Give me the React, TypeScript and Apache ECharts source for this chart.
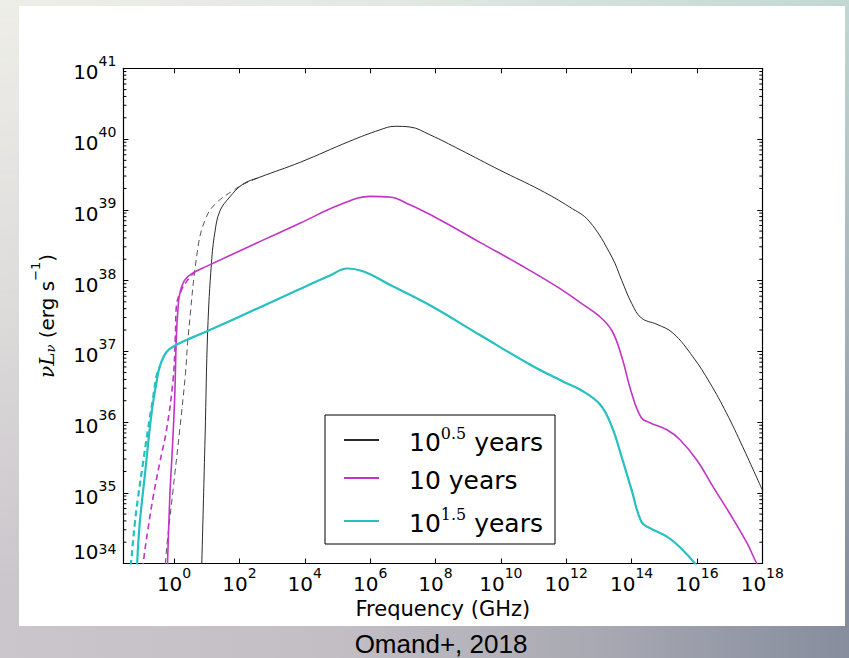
import React, { useEffect, useRef } from 'react';
import * as echarts from 'echarts';

// Axis extents (log10 units)
const xMinLog = -1.55;
const xMaxLog = 18;
const yMinLog = 34;
const yMaxLog = 41;

// Tick structure
const xTickStep = 2;
const yDecades = [34, 35, 36, 37, 38, 39, 40];
const minorFactors = [2, 3, 4, 5, 6, 7, 8, 9];

// Series: [log10(freq / GHz), log10(nu L_nu / erg s^-1)]
const blackSolid: [number, number][] = [
  [0.8, 33.3], [0.848, 34.0], [0.95, 35.8], [1.03, 37.3], [1.145, 38.25], [1.246, 38.67],
  [1.4, 38.98], [1.705, 39.18], [2.1, 39.36], [2.62, 39.46], [3.85, 39.67], [5.38, 39.97],
  [6.3, 40.13], [6.76, 40.18], [7.22, 40.17], [7.83, 40.06], [8.75, 39.85], [9.97, 39.56],
  [11.2, 39.28], [12.1, 39.04], [12.7, 38.84], [13.4, 38.33], [13.7, 38.0], [14.0, 37.68],
  [14.3, 37.47], [14.78, 37.38], [15.26, 37.26], [15.88, 36.92], [16.4, 36.55], [16.9, 36.13],
  [17.4, 35.65], [18.0, 35.04],
];
const blackDashed: [number, number][] = [
  [-0.35, 33.0], [-0.263, 34.01], [-0.03, 35.04], [0.174, 35.89], [0.35, 36.69], [0.43, 37.2],
  [0.735, 38.48], [0.99, 38.9], [1.3, 39.1], [1.8, 39.27], [2.16, 39.37], [2.62, 39.46],
];
const magentaSolid: [number, number][] = [
  [-0.25, 33.3], [-0.2, 34.0], [-0.13, 34.94], [-0.05, 35.64], [0.02, 36.35], [0.07, 37.2],
  [0.12, 37.6], [0.17, 37.8], [0.33, 38.01], [0.63, 38.12], [0.99, 38.2], [2.62, 38.55],
  [3.85, 38.81], [5.07, 39.07], [6.0, 39.19], [6.6, 39.18], [7.22, 39.07], [8.13, 38.86],
  [9.36, 38.54], [10.6, 38.22], [11.8, 37.89], [12.42, 37.69], [13.0, 37.5], [13.4, 37.29],
  [13.7, 36.92], [14.0, 36.41], [14.3, 36.06], [14.56, 35.99], [15.08, 35.89], [15.48, 35.75],
  [16.0, 35.46], [16.5, 35.08], [17.0, 34.71], [17.53, 34.29], [17.83, 34.0], [18.0, 33.88],
];
const magentaDashed: [number, number][] = [
  [-1.05, 33.5], [-0.93, 34.05], [-0.8, 34.48], [-0.64, 34.94], [-0.44, 35.42], [-0.23, 35.89],
  [-0.03, 36.6], [0.04, 37.2], [0.07, 37.63], [0.23, 37.87], [0.42, 38.01], [0.63, 38.12],
];
const cyanSolid: [number, number][] = [
  [-1.2, 33.2], [-1.13, 34.0], [-1.05, 34.57], [-0.9, 35.22], [-0.69, 36.12], [-0.54, 36.55],
  [-0.44, 36.78], [-0.23, 36.99], [0.07, 37.09], [0.58, 37.2], [1.04, 37.29], [2.62, 37.62],
  [3.85, 37.88], [4.77, 38.07], [5.29, 38.17], [5.84, 38.12], [6.6, 37.94], [7.83, 37.65],
  [9.36, 37.23], [10.9, 36.81], [11.96, 36.56], [12.42, 36.46], [13.03, 36.25], [13.4, 35.93],
  [13.7, 35.5], [14.0, 35.04], [14.3, 34.59], [14.56, 34.5], [15.08, 34.38], [15.48, 34.23],
  [15.94, 34.0], [16.1, 33.88],
];
const cyanDashed: [number, number][] = [
  [-1.45, 33.4], [-1.3, 34.09], [-1.2, 34.57], [-1.1, 34.94], [-0.95, 35.42], [-0.8, 35.89],
  [-0.64, 36.35], [-0.54, 36.64], [-0.44, 36.78],
];

const seriesNames = ['10^0.5 years', '10 years', '10^1.5 years'];
const legendLabels: Record<string, string> = {
  '10^0.5 years': '{g|}{b|10}{s|0.5}{b| years}',
  '10 years': '{g|}{b|10 years}',
  '10^1.5 years': '{g|}{b|10}{s|1.5}{b| years}',
};

const BLACK = '#2a2a2a';
const MAGENTA = '#c233c6';
const CYAN = '#26c0c0';

const sansFont = '"DejaVu Sans", sans-serif';

export default function App() {
  const ref = useRef<HTMLDivElement>(null);

  useEffect(() => {
    document.body.style.margin = '0';
    const chart = echarts.init(ref.current!, null, { renderer: 'svg' });

    const minorData: [number, number][] = [];
    yDecades.forEach((d) => minorFactors.forEach((k) => minorData.push([xMinLog, d + Math.log10(k)])));

    const bStyle = { fontSize: 20, fontFamily: sansFont, color: '#000', lineHeight: 28, verticalAlign: 'bottom' };
    const sStyle = { fontSize: 14, fontFamily: sansFont, color: '#000', lineHeight: 14, verticalAlign: 'top' };
    const tickLabelRich = {
      b: bStyle,
      s: sStyle,
      bl: { ...bStyle, verticalAlign: 'top' },
      sp: { fontSize: 1, lineHeight: 44, width: 0 },
    };

    const axisCommon = {
      axisLine: { show: true, onZero: false, lineStyle: { color: '#000', width: 1.2 } },
      axisTick: { show: true, inside: true, length: 5, lineStyle: { color: '#000', width: 1 } },
      splitLine: { show: false },
    };

    const xLabelFormatter = (v: number) =>
      Number.isInteger(v) && v % xTickStep === 0 ? `{b|10}{s|${v}}` : '';
    const yLabelFormatter = (v: number) =>
      v === yMinLog ? `{bl|10}{s|${v}}{sp| }` : `{b|10}{s|${v}}`;

    const lineSeries = (name: string, data: [number, number][], color: string, width: number, dashed: boolean) => ({
      type: 'line',
      name,
      data,
      xAxisIndex: 0,
      yAxisIndex: 0,
      symbol: 'none',
      showSymbol: false,
      smooth: 0.4,
      clip: true,
      lineStyle: { color, width, type: dashed ? [6, 4] : 'solid' },
      itemStyle: { color },
      z: dashed ? 2 : 3,
    });

    const option: any = {
      animation: false,
      backgroundColor: 'transparent',
      grid: { left: 123.4, top: 68.3, right: 86.7, bottom: 94.5, containLabel: false },
      xAxis: [
        {
          type: 'value', position: 'bottom', min: xMinLog, max: xMaxLog,
          minInterval: xTickStep, maxInterval: xTickStep, splitNumber: 10,
          ...axisCommon,
          axisLabel: { show: true, margin: 2, formatter: xLabelFormatter, rich: tickLabelRich, showMinLabel: true, showMaxLabel: true },
          name: 'Frequency (GHz)', nameLocation: 'middle', nameGap: 34,
          nameTextStyle: { fontSize: 21, fontFamily: sansFont, color: '#000' },
        },
        {
          type: 'value', position: 'top', min: xMinLog, max: xMaxLog,
          minInterval: xTickStep, maxInterval: xTickStep, splitNumber: 10,
          ...axisCommon,
          axisLabel: { show: false },
        },
      ],
      yAxis: [
        {
          type: 'value', position: 'left', min: yMinLog, max: yMaxLog, interval: 1,
          ...axisCommon,
          axisLabel: { show: true, margin: 7, formatter: yLabelFormatter, rich: tickLabelRich },
          name: '{i|νL}{sub|ν}{n| (erg s}{sup|−1}{n|)}',
          nameLocation: 'middle', nameGap: 66, nameRotate: 90,
          nameTextStyle: {
            rich: {
              i: { fontSize: 20, fontFamily: '"DejaVu Serif", serif', fontStyle: 'italic', color: '#000', lineHeight: 28, verticalAlign: 'bottom' },
              sub: { fontSize: 13, fontFamily: '"DejaVu Serif", serif', fontStyle: 'italic', color: '#000', lineHeight: 13, verticalAlign: 'bottom' },
              n: { fontSize: 20, fontFamily: sansFont, color: '#000', lineHeight: 28, verticalAlign: 'bottom' },
              sup: { fontSize: 13, fontFamily: sansFont, color: '#000', lineHeight: 13, verticalAlign: 'top' },
            },
          },
        },
        {
          type: 'value', position: 'right', min: yMinLog, max: yMaxLog, interval: 1,
          ...axisCommon,
          axisLabel: { show: false },
        },
      ],
      legend: {
        data: seriesNames,
        orient: 'vertical',
        left: 325,
        top: 415,
        itemWidth: 35,
        itemHeight: 14,
        itemGap: 13,
        padding: [10, 12, 8, 18],
        borderColor: '#000',
        borderWidth: 1,
        borderRadius: 0,
        backgroundColor: '#fff',
        selectedMode: false,
        itemStyle: { opacity: 0, borderWidth: 0 },
        formatter: (name: string) => legendLabels[name],
        textStyle: {
          rich: {
            g: { width: 25 },
            b: { fontSize: 25, fontFamily: sansFont, color: '#000', lineHeight: 30, verticalAlign: 'bottom' },
            s: { fontSize: 16, fontFamily: '"DejaVu Serif", serif', color: '#000', lineHeight: 16, verticalAlign: 'top' },
          },
        },
      },
      graphic: [
        {
          type: 'text',
          x: 441,
          y: 631,
          style: {
            text: 'Omand+, 2018',
            font: '26px "Liberation Sans", Arial, sans-serif',
            fill: '#000',
            align: 'center',
            verticalAlign: 'top',
          },
          z: 10,
        },
      ],
      series: [
        lineSeries('10^0.5 years (dashed)', blackDashed, '#555', 1, true),
        lineSeries('10 years (dashed)', magentaDashed, MAGENTA, 1.6, true),
        lineSeries('10^1.5 years (dashed)', cyanDashed, CYAN, 2.2, true),
        lineSeries('10^0.5 years', blackSolid, BLACK, 1, false),
        lineSeries('10 years', magentaSolid, MAGENTA, 1.6, false),
        lineSeries('10^1.5 years', cyanSolid, CYAN, 2.2, false),
        {
          type: 'custom',
          name: 'minor ticks',
          xAxisIndex: 0,
          yAxisIndex: 0,
          silent: true,
          clip: false,
          z: 5,
          data: minorData,
          renderItem: (_params: any, api: any) => {
            const v = api.value(1);
            const pL = api.coord([xMinLog, v]);
            const pR = api.coord([xMaxLog, v]);
            const st = { stroke: '#000', lineWidth: 1 };
            return {
              type: 'group',
              children: [
                { type: 'line', shape: { x1: pL[0], y1: pL[1], x2: pL[0] + 3, y2: pL[1] }, style: st },
                { type: 'line', shape: { x1: pR[0] - 3, y1: pR[1], x2: pR[0], y2: pR[1] }, style: st },
              ],
            };
          },
        },
      ],
    };

    chart.setOption(option);
    return () => chart.dispose();
  }, []);

  return (
    <div
      style={{
        position: 'relative',
        width: 849,
        height: 658,
        overflow: 'hidden',
        background: 'linear-gradient(to right, #cbc6cc 0%, #c2bec4 40%, #a9a9b3 70%, #868d9d 100%)',
      }}
    >
      <div
        style={{
          position: 'absolute',
          left: 0,
          top: 0,
          width: 849,
          height: 658,
          background: 'linear-gradient(to right, #eeeee8 0%, #e3e8e2 45%, #c2d8d3 100%)',
          WebkitMaskImage: 'linear-gradient(to bottom, #000 0%, rgba(0,0,0,0.6) 40%, transparent 90%)',
          maskImage: 'linear-gradient(to bottom, #000 0%, rgba(0,0,0,0.6) 40%, transparent 90%)',
        }}
      />
      <div style={{ position: 'absolute', left: 19, top: 6, width: 826, height: 620, background: '#fff' }} />
      <div ref={ref} style={{ position: 'absolute', left: 0, top: 0, width: 849, height: 658 }} />
    </div>
  );
}
